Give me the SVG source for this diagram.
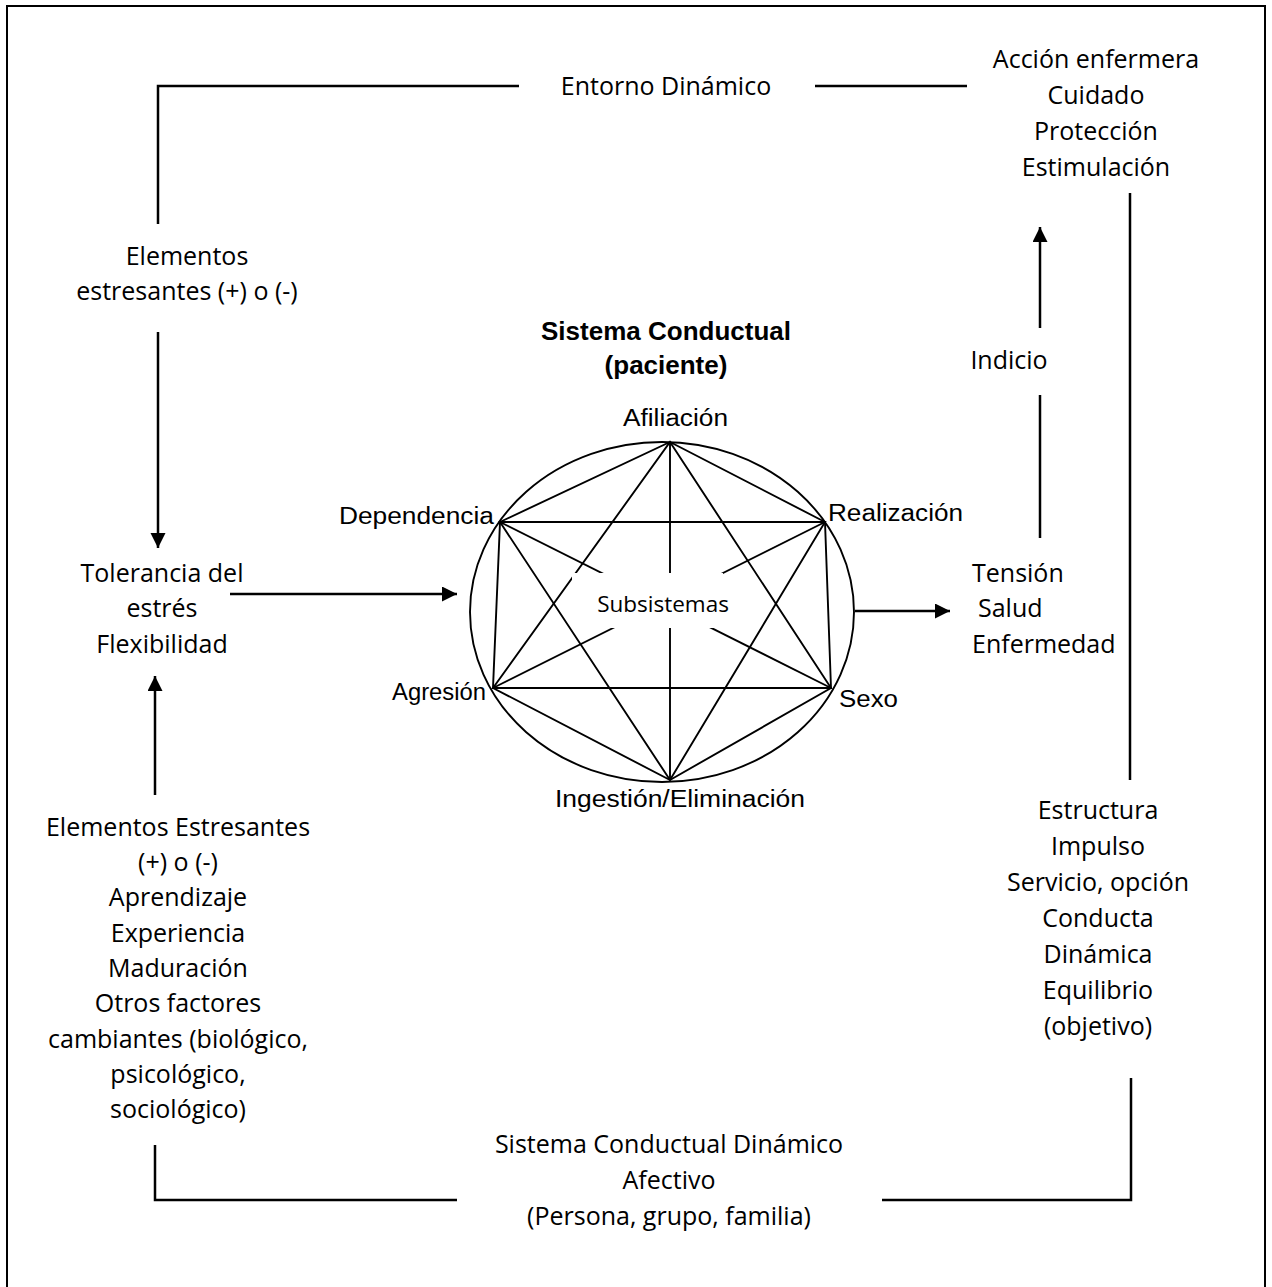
<svg xmlns="http://www.w3.org/2000/svg" width="1272" height="1287" viewBox="0 0 1272 1287">
<style>
.t{font-family:"Open Sans","Liberation Sans",sans-serif;font-size:25px;fill:#000;text-anchor:middle}
.ts{font-family:"Open Sans","Liberation Sans",sans-serif;font-size:25px;fill:#000;text-anchor:start}
.a{font-family:"Liberation Sans",Arial,sans-serif;font-size:23px;fill:#000}
.b{font-family:"Liberation Sans",Arial,sans-serif;font-size:26px;font-weight:bold;fill:#000;text-anchor:middle}
.c{fill:none;stroke:#000;stroke-width:2.5}
.p{fill:none;stroke:#000;stroke-width:1.9}
</style>
<defs>
<marker id="ah" markerUnits="userSpaceOnUse" markerWidth="16" markerHeight="16" refX="15" refY="7.5" orient="auto">
<path d="M0,0 L15,7.5 L0,15 z" fill="#000"/>
</marker>
</defs>
<rect width="1272" height="1287" fill="#fff"/>
<path d="M7,1287 V6 H1265 V1287" fill="none" stroke="#000" stroke-width="2"/>

<g id="connectors">
<path class="c" d="M158,224 V86 H519"/>
<path class="c" d="M815,86 H967"/>
<path class="c" d="M158,332 V548" marker-end="url(#ah)"/>
<path class="c" d="M230,594 H457" marker-end="url(#ah)"/>
<path class="c" d="M155,795 V676" marker-end="url(#ah)"/>
<path class="c" d="M855,611 H950" marker-end="url(#ah)"/>
<path class="c" d="M1040,328 V227" marker-end="url(#ah)"/>
<path class="c" d="M1040,395 V538"/>
<path class="c" d="M1130,193 V780" stroke-width="2"/>
<path class="c" d="M882,1200 H1131 V1078" stroke-width="2"/>
<path class="c" d="M155,1145 V1200 H457" stroke-width="2"/>
</g>

<g id="entorno"><text class="t" x="666" y="95">Entorno Dinámico</text></g>

<g id="accion">
<text class="t" x="1096" y="68">Acción enfermera</text>
<text class="t" x="1096" y="104">Cuidado</text>
<text class="t" x="1096" y="140">Protección</text>
<text class="t" x="1096" y="176">Estimulación</text>
</g>

<g id="elementos">
<text class="t" x="187" y="265">Elementos</text>
<text class="t" x="187" y="300">estresantes (+) o (-)</text>
</g>

<g id="tolerancia">
<text class="t" x="162" y="582">Tolerancia del</text>
<text class="t" x="162" y="617">estrés</text>
<text class="t" x="162" y="653">Flexibilidad</text>
</g>

<g id="indicio"><text class="t" x="1009" y="369">Indicio</text></g>

<g id="tension">
<text class="ts" x="972" y="582">Tensión</text>
<text class="ts" x="978" y="617">Salud</text>
<text class="ts" x="972" y="653">Enfermedad</text>
</g>

<g id="estresantes2">
<text class="t" x="178" y="836">Elementos Estresantes</text>
<text class="t" x="178" y="871">(+) o (-)</text>
<text class="t" x="178" y="906">Aprendizaje</text>
<text class="t" x="178" y="942">Experiencia</text>
<text class="t" x="178" y="977">Maduración</text>
<text class="t" x="178" y="1012">Otros factores</text>
<text class="t" x="178" y="1048">cambiantes (biológico,</text>
<text class="t" x="178" y="1083">psicológico,</text>
<text class="t" x="178" y="1118">sociológico)</text>
</g>

<g id="estructura">
<text class="t" x="1098" y="819">Estructura</text>
<text class="t" x="1098" y="855">Impulso</text>
<text class="t" x="1098" y="891">Servicio, opción</text>
<text class="t" x="1098" y="927">Conducta</text>
<text class="t" x="1098" y="963">Dinámica</text>
<text class="t" x="1098" y="999">Equilibrio</text>
<text class="t" x="1098" y="1035">(objetivo)</text>
</g>

<g id="sistema-dinamico">
<text class="t" x="669" y="1153">Sistema Conductual Dinámico</text>
<text class="t" x="669" y="1189">Afectivo</text>
<text class="t" x="669" y="1225">(Persona, grupo, familia)</text>
</g>

<g id="sistema-conductual">
<text class="b" x="666" y="340">Sistema Conductual</text>
<text class="b" x="666" y="374">(paciente)</text>
<ellipse class="p" cx="662" cy="612" rx="192" ry="170"/>
<g class="p">
<polygon class="p" points="670,442 825,522 831,688 670,780 493,688 500,522"/>
<line x1="500" y1="522" x2="825" y2="522"/>
<line x1="493" y1="688" x2="831" y2="688"/>
<polygon class="p" points="670,442 831,688 493,688"/>
<polygon class="p" points="500,522 825,522 670,780"/>
<line x1="670" y1="442" x2="670" y2="780"/>
<line x1="500" y1="522" x2="831" y2="688"/>
<line x1="825" y1="522" x2="493" y2="688"/>
</g>
<rect x="572" y="573" width="151" height="55" fill="#fff"/>
<text class="t" x="663" y="612" style="font-size:22.5px">Subsistemas</text>
<text class="a" x="623" y="426" textLength="105" lengthAdjust="spacingAndGlyphs">Afiliación</text>
<text class="a" x="339" y="524" textLength="155" lengthAdjust="spacingAndGlyphs">Dependencia</text>
<text class="a" x="828" y="521" textLength="135" lengthAdjust="spacingAndGlyphs">Realización</text>
<text class="a" x="392" y="700" textLength="94" lengthAdjust="spacingAndGlyphs">Agresión</text>
<text class="a" x="839" y="707" textLength="59" lengthAdjust="spacingAndGlyphs">Sexo</text>
<text class="a" x="555" y="807" textLength="250" lengthAdjust="spacingAndGlyphs">Ingestión/Eliminación</text>
</g>
</svg>
